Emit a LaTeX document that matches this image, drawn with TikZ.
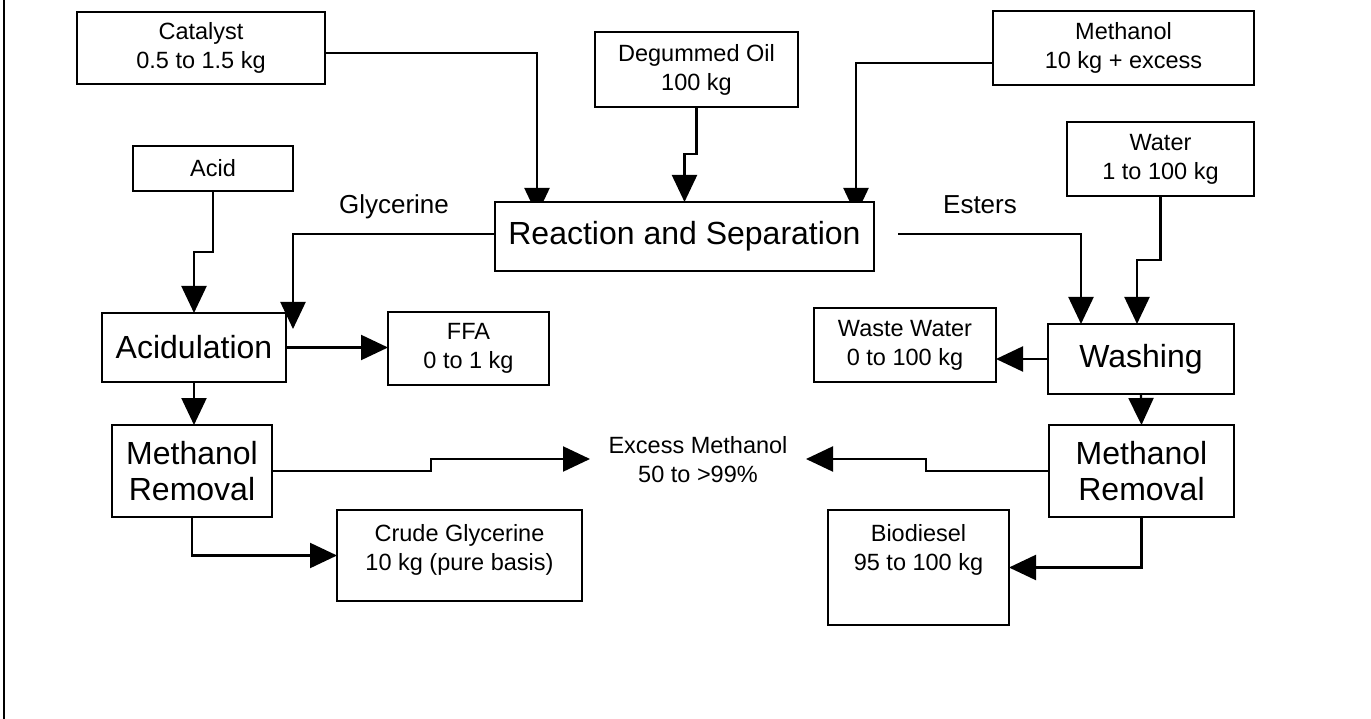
\documentclass[tikz,border=0pt]{standalone}
\usepackage{fontspec}
\setmainfont{Liberation Sans}
\usetikzlibrary{arrows.meta,calc}
\pgfdeclarelayer{bg}
\pgfsetlayers{bg,main}
\begin{document}
\begin{tikzpicture}[x=1pt,y=-1pt,
  sbox/.style={draw,line width=2pt,fill=white,outer sep=0pt,inner sep=0pt,align=center,font=\fontsize{23.5}{29}\selectfont},
  pbox/.style={draw,line width=1.5pt,fill=white,outer sep=0pt,inner sep=0pt,align=center,font=\fontsize{32}{36}\selectfont},
  txt/.style={inner sep=0pt,align=center,font=\fontsize{23.5}{29}\selectfont},
  lbl/.style={inner sep=0pt,font=\fontsize{26}{30}\selectfont},
  conn/.style={line width=2.2pt,-{Triangle[length=27pt,width=25pt]}},
  plain/.style={line width=2.2pt}]
\useasboundingbox (0,0) rectangle (1371,719);
\draw[line width=2pt] (4,0) -- (4,719);
% input boxes
\node[sbox,minimum width=248pt,minimum height=72pt] (cat) at (201,48) {Catalyst\\0.5 to 1.5 kg};
\node[sbox,minimum width=203pt,minimum height=75pt] (deg) at (696.5,69.5) {Degummed Oil\\100 kg};
\node[sbox,minimum width=261pt,minimum height=74pt] (meth) at (1123.5,48) {Methanol\\10 kg + excess};
\node[sbox,minimum width=160pt,minimum height=45pt] (acid) at (213,168.5) {Acid};
\node[sbox,minimum width=187pt,minimum height=74pt] (water) at (1160.5,159) {Water\\1 to 100 kg};
% process boxes
\node[pbox,minimum width=379pt,minimum height=69pt] (rxn) at (684.5,236.5) {Reaction and Separation};
\node[pbox,minimum width=184pt,minimum height=69pt] (acidul) at (194,347.5) {Acidulation};
\node[pbox,minimum width=186pt,minimum height=70pt] (wash) at (1141,359) {Washing};
\node[pbox,minimum width=160pt,minimum height=92pt] (mrl) at (192,471) {Methanol\\Removal};
\node[pbox,minimum width=185pt,minimum height=92pt] (mrr) at (1141.5,471) {Methanol\\Removal};
% output boxes
\node[sbox,minimum width=161pt,minimum height=73pt] (ffa) at (468.5,348.5) {FFA\\0 to 1 kg};
\node[sbox,minimum width=182pt,minimum height=74pt] (waste) at (905,345) {Waste Water\\0 to 100 kg};
\node[sbox,minimum width=245pt,minimum height=91pt] (crude) at (459.5,555.5) {};
\node[txt] (crudet) at (459.5,549.5) {Crude Glycerine\\10 kg (pure basis)};
\node[sbox,minimum width=181pt,minimum height=115pt] (bio) at (918.5,567.5) {};
\node[txt] (biot) at (918.5,549.5) {Biodiesel\\95 to 100 kg};
% labels
\node[lbl] (glyl) at (394,207) {Glycerine};
\node[lbl] (estl) at (980,205) {Esters};
\node[txt] (exc) at (698,460) {Excess Methanol\\50 to >99\%};
\coordinate (estart) at (898,234);
\coordinate (exL) at (590,459);
\coordinate (exR) at (806,459);
% connectors hidden behind the reaction box
\begin{pgfonlayer}{bg}
\draw[conn] (cat.east |- 0,53) -| ([xshift=42pt,yshift=-13pt]rxn.north west);
\draw[conn] (meth.west |- 0,63) -| ([xshift=-18pt,yshift=-13pt]rxn.north east);
\end{pgfonlayer}
\draw[conn] (deg.south) -- ++(0,47) -| (rxn.north);
\draw[conn] (rxn.west |- 0,234) -| ([xshift=7pt,yshift=-16pt]acidul.north east);
\draw[conn] (estart) -| ([xshift=33pt]wash.north west);
\draw[conn] (water.south) -- ++(0,64) -| ([xshift=89pt]wash.north west);
\draw[conn] (acid.south) -- ++(0,61) -| (acidul.north);
\draw[conn] (acidul.east) -- (acidul.east -| ffa.west);
\draw[conn] (acidul.south) -- (acidul.south |- mrl.north);
\draw[conn] (mrl.east) -- ++(159,0) -- ++(0,-12) -- (exL);
\draw[conn] (mrr.west) -- ++(-123,0) -- ++(0,-12) -- (exR);
\draw[conn] (wash.west) -- (wash.west -| waste.east);
\draw[conn] (wash.south) -- (mrr.north);
\draw[conn] (mrl.south) |- (crude.west);
\draw[conn] (mrr.south) |- (bio.east);
\end{tikzpicture}
\end{document}
